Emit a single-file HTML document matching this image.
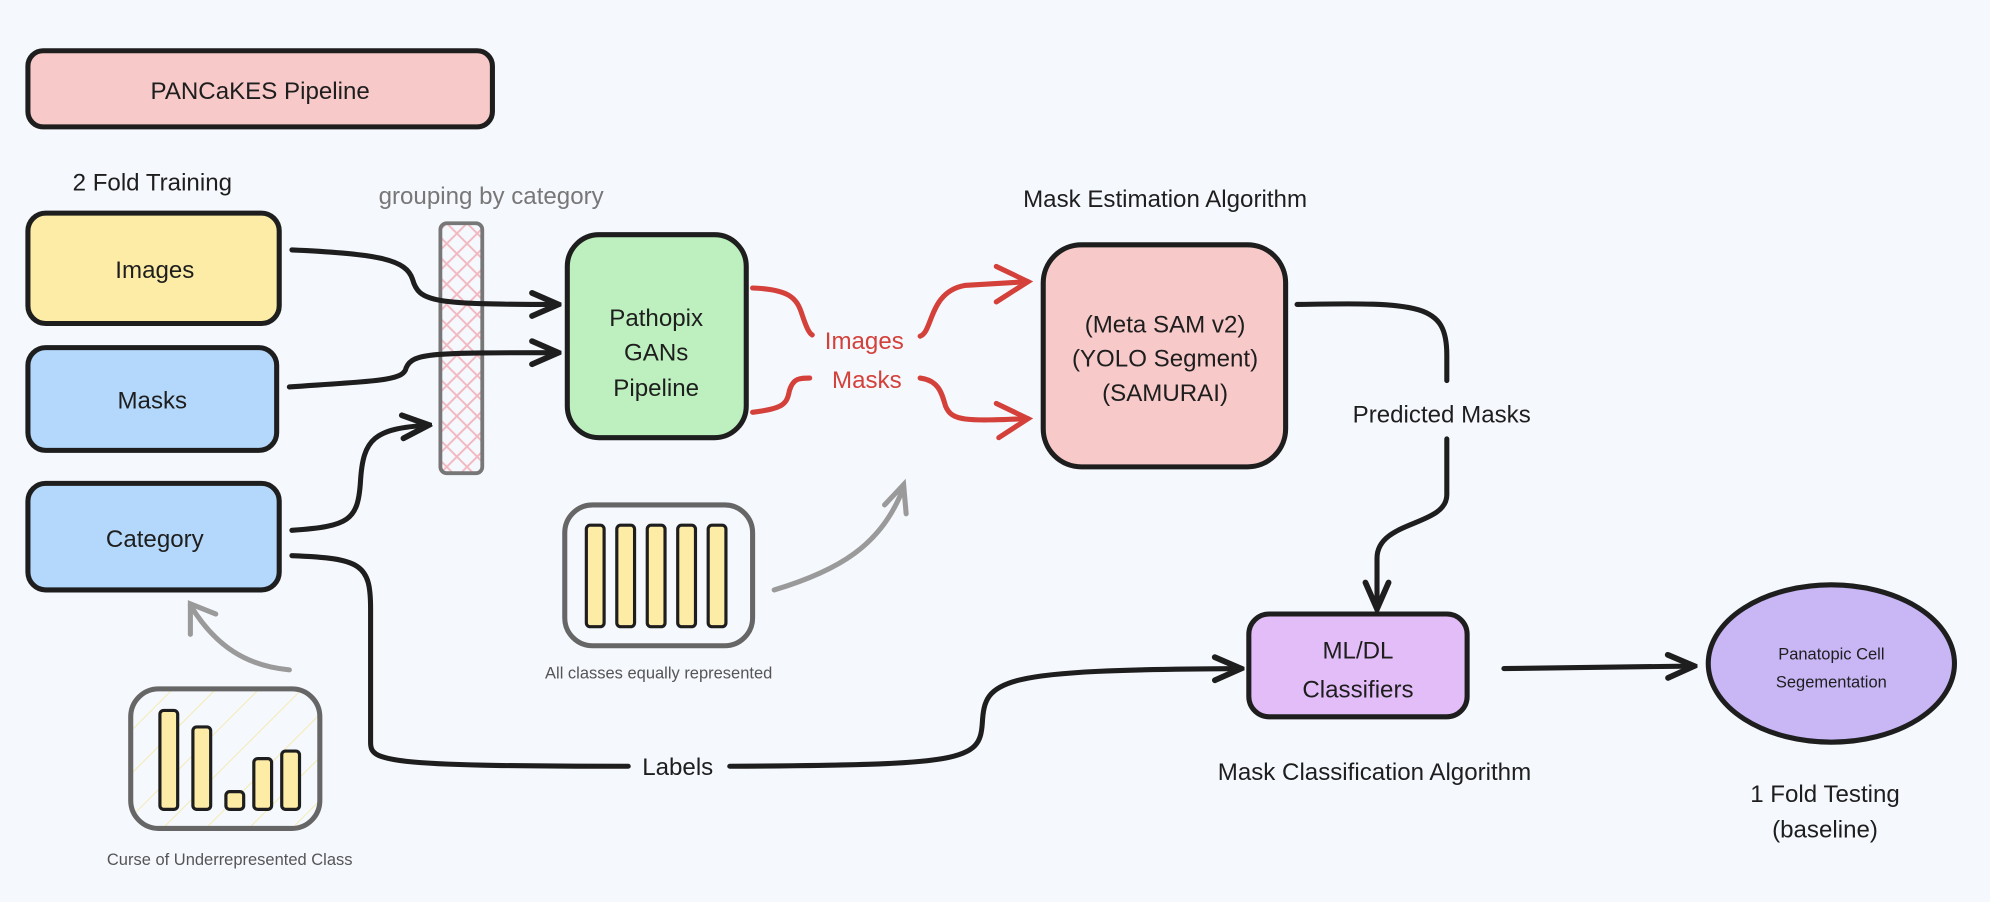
<!DOCTYPE html>
<html><head><meta charset="utf-8"><style>
html,body{margin:0;padding:0;background:#f5f8fd;width:1990px;height:902px;overflow:hidden}
svg{display:block}
text{font-family:"Liberation Sans",sans-serif;fill:#1e1e1e}
</style></head><body>
<svg width="1990" height="902" viewBox="0 0 1568 711" preserveAspectRatio="none">
<defs>
<pattern id="hx" width="16" height="16" patternUnits="userSpaceOnUse">
<path d="M0 0L16 16M16 0L0 16" stroke="#f2b8c0" stroke-width="1.5"/></pattern>
<pattern id="hy" width="24" height="24" patternUnits="userSpaceOnUse" patternTransform="rotate(45)">
<path d="M0 0L0 24" stroke="#f6eab0" stroke-width="1.5"/></pattern>
<marker id="ab" viewBox="0 0 20 20" refX="18" refY="10" markerWidth="26" markerHeight="26" markerUnits="userSpaceOnUse" orient="auto"><path d="M2 3L18 10L2 17" fill="none" stroke="#1e1e1e" stroke-width="3.5" stroke-linecap="round"/></marker>
</defs>
<rect width="1568" height="711" fill="#f5f8fd"/>
<g stroke="#1e1e1e" stroke-width="4">
<rect x="22" y="40" width="366" height="60" rx="12" fill="#f8c9c9"/>
<rect x="22" y="168" width="198" height="87" rx="14" fill="#fdeca6"/>
<rect x="22" y="274" width="196" height="81" rx="14" fill="#b4d8fb"/>
<rect x="22" y="381" width="198" height="84" rx="14" fill="#b4d8fb"/>
<rect x="447" y="185" width="141" height="160" rx="25" fill="#bdf0be"/>
<rect x="822" y="193" width="191" height="175" rx="30" fill="#f8c9c9"/>
<rect x="984" y="484" width="172" height="81" rx="16" fill="#e3bdf8"/>
<ellipse cx="1443" cy="523" rx="97" ry="62" fill="#c8b6f5"/>
</g>
<rect x="347" y="176" width="33" height="197" rx="5" fill="url(#hx)" stroke="#777" stroke-width="3"/>
<rect x="445" y="398" width="148" height="111" rx="22" fill="none" stroke="#666" stroke-width="4"/>
<g fill="#fdeca6" stroke="#1e1e1e" stroke-width="2.5">
<rect x="462" y="414" width="14" height="80" rx="3"/><rect x="486" y="414" width="14" height="80" rx="3"/><rect x="510" y="414" width="14" height="80" rx="3"/><rect x="534" y="414" width="14" height="80" rx="3"/><rect x="558" y="414" width="14" height="80" rx="3"/>
</g>
<rect x="103" y="543" width="149" height="110" rx="22" fill="url(#hy)" stroke="#666" stroke-width="4"/>
<g fill="#fdeca6" stroke="#1e1e1e" stroke-width="2.5">
<rect x="126" y="560" width="14" height="78" rx="3"/><rect x="152" y="573" width="14" height="65" rx="3"/><rect x="178" y="624" width="14" height="14" rx="3"/><rect x="200" y="598" width="14" height="40" rx="3"/><rect x="222" y="592" width="14" height="46" rx="3"/>
</g>
<g fill="none" stroke="#1e1e1e" stroke-width="4" stroke-linecap="round">
<path d="M230 197 C300 200 320 205 325 220 C330 238 340 240 440 240" marker-end="url(#ab)"/>
<path d="M228 305 C300 300 318 300 320 290 C325 278 340 278 440 278" marker-end="url(#ab)"/>
<path d="M230 418 C275 415 282 410 284 380 C286 345 295 338 338 335" marker-end="url(#ab)"/>
<path d="M230 438 C285 440 292 445 292 480 L292 585 C292 600 300 604 495 604"/>
<path d="M575 604 C760 603 772 600 774 570 C776 535 785 528 978 527" marker-end="url(#ab)"/>
<path d="M1022 240 C1120 238 1140 240 1140 280 L1140 300"/>
<path d="M1140 346 L1140 390 C1140 415 1085 410 1085 440 L1085 480" marker-end="url(#ab)"/>
<path d="M1185 527 L1335 525" marker-end="url(#ab)"/>
</g>
<g fill="none" stroke="#d4403a" stroke-width="4" stroke-linecap="round">
<path d="M593 227 C622 228 628 235 632 248 C636 260 638 263 640 264"/>
<path d="M725 265 C735 262 732 230 760 225 L810 222"/>
<path d="M785 210 L810 222 L785 238"/>
<path d="M593 325 C618 322 620 318 622 308 C625 298 630 298 638 298"/>
<path d="M725 298 C740 300 742 310 745 320 C750 332 760 332 810 330"/>
<path d="M785 318 L810 330 L787 345"/>
</g>
<g fill="none" stroke="#9a9a9a" stroke-width="4" stroke-linecap="round">
<path d="M610 465 C660 450 695 430 712 384"/><path d="M697 398 L712 382 L714 405"/>
<path d="M228 528 C195 525 170 510 150 477"/><path d="M150 500 L150 476 L170 484"/>
</g>
<g font-size="19" text-anchor="middle">
<text x="205" y="78">PANCaKES Pipeline</text>
<text x="120" y="150">2 Fold Training</text>
<text x="122" y="219">Images</text>
<text x="120" y="322">Masks</text>
<text x="122" y="431">Category</text>
<text x="387" y="161" style="fill:#777">grouping by category</text>
<text x="517" y="257">Pathopix</text><text x="517" y="284">GANs</text><text x="517" y="312">Pipeline</text>
<text x="681" y="275" style="fill:#d4403a">Images</text>
<text x="683" y="306" style="fill:#d4403a">Masks</text>
<text x="918" y="163">Mask Estimation Algorithm</text>
<text x="918" y="262">(Meta SAM v2)</text><text x="918" y="289">(YOLO Segment)</text><text x="918" y="316">(SAMURAI)</text>
<text x="1136" y="333">Predicted Masks</text>
<text x="1070" y="519">ML/DL</text><text x="1070" y="550">Classifiers</text>
<text x="1083" y="615">Mask Classification Algorithm</text>
<text x="1438" y="632">1 Fold Testing</text><text x="1438" y="660">(baseline)</text>
<text x="534" y="611">Labels</text>
</g>
<g font-size="13" text-anchor="middle">
<text x="1443" y="520">Panatopic Cell</text><text x="1443" y="542">Segementation</text>
<text x="519" y="535" style="fill:#555">All classes equally represented</text>
<text x="181" y="682" style="fill:#555">Curse of Underrepresented Class</text>
</g>
</svg>
</body></html>
